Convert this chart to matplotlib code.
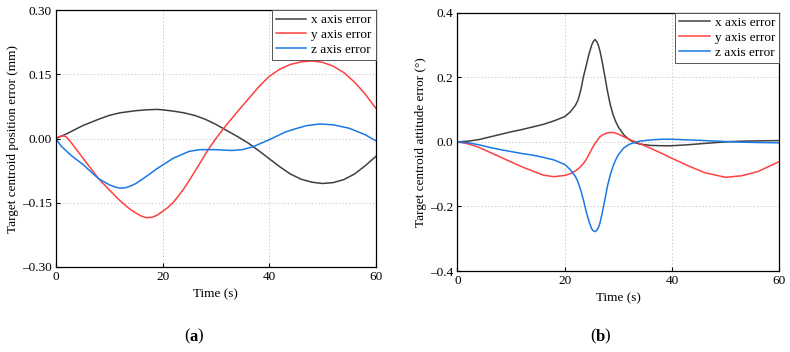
import matplotlib
matplotlib.use("Agg")
import matplotlib.pyplot as plt
from matplotlib.ticker import FuncFormatter

# ---- (a) position error ----
xa_t = [0, 2, 5, 8, 10, 12, 15, 17, 19, 20, 22, 24, 26, 28, 30, 32, 34, 36, 38,
        40, 42, 44, 46, 48, 50, 52, 54, 56, 58, 60]
xa = [0, 0.011, 0.03, 0.045, 0.054, 0.06, 0.065, 0.067, 0.068, 0.067, 0.064,
      0.06, 0.054, 0.045, 0.033, 0.019, 0.005, -0.01, -0.028, -0.047, -0.066,
      -0.083, -0.095, -0.102, -0.105, -0.103, -0.096, -0.083, -0.064, -0.042]

ya_t = [0, 0.5, 1, 1.5, 2, 3, 5, 8, 10, 12, 13, 14, 15, 16, 17, 18, 19, 20, 21,
        22, 23, 24, 25, 26, 27, 28, 29, 30, 32, 34, 36, 38, 40, 42, 44, 46, 48,
        50, 52, 54, 56, 58, 60]
ya = [0, 0.004, 0.006, 0.006, 0.003, -0.012, -0.045, -0.094, -0.12, -0.145,
      -0.156, -0.166, -0.174, -0.181, -0.185, -0.184, -0.179, -0.17, -0.161,
      -0.149, -0.134, -0.117, -0.098, -0.078, -0.058, -0.037, -0.018, 0.0,
      0.032, 0.062, 0.091, 0.12, 0.145, 0.162, 0.173, 0.179, 0.181, 0.178,
      0.169, 0.154, 0.132, 0.104, 0.071]

za_t = [0, 0.5, 1, 2, 3, 5, 8, 10, 11, 12, 13, 14, 15, 17, 19, 20, 22, 25, 27,
        30, 33, 35, 37, 40, 43, 45, 47, 49.5, 52, 55, 58, 60]
za = [0, -0.01, -0.018, -0.03, -0.041, -0.06, -0.094, -0.108, -0.113, -0.116,
      -0.115, -0.111, -0.105, -0.088, -0.07, -0.062, -0.046, -0.03, -0.026,
      -0.026, -0.028, -0.026, -0.019, -0.003, 0.015, 0.023, 0.03, 0.034, 0.032,
      0.024, 0.009, -0.005]

# ---- (b) attitude error ----
tb = [0, 2, 4, 6, 8, 10, 12, 14, 16, 18, 20, 21, 22, 22.5, 23, 23.5, 24, 24.5,
      25, 25.3, 25.66, 26, 26.3, 26.6, 27, 27.5, 28, 28.5, 29, 29.5, 30, 31, 32,
      33, 34, 36, 38, 40, 43, 46, 50, 53, 56, 60]
xb = [0, 0.002, 0.007, 0.015, 0.023, 0.031, 0.038, 0.046, 0.054, 0.065, 0.078,
      0.092, 0.113, 0.13, 0.16, 0.202, 0.235, 0.27, 0.298, 0.31, 0.317, 0.31,
      0.298, 0.28, 0.247, 0.202, 0.155, 0.115, 0.085, 0.063, 0.046, 0.022,
      0.007, -0.002, -0.007, -0.011, -0.012, -0.012, -0.009, -0.005, 0.0,
      0.002, 0.003, 0.004]
yb = [0, -0.006, -0.017, -0.032, -0.047, -0.062, -0.077, -0.09, -0.103,
      -0.108, -0.104, -0.099, -0.09, -0.084, -0.076, -0.067, -0.055, -0.04,
      -0.024, -0.015, -0.005, 0.003, 0.01, 0.016, 0.021, 0.025, 0.028, 0.029,
      0.029, 0.027, 0.024, 0.016, 0.008, 0.001, -0.005, -0.02, -0.035, -0.051,
      -0.074, -0.095, -0.11, -0.105, -0.092, -0.061]
zb = [0, -0.003, -0.009, -0.017, -0.024, -0.03, -0.036, -0.041, -0.048,
      -0.056, -0.07, -0.085, -0.107, -0.125, -0.15, -0.18, -0.215, -0.245,
      -0.268, -0.275, -0.278, -0.274, -0.265, -0.25, -0.22, -0.178, -0.135,
      -0.102, -0.076, -0.056, -0.04, -0.019, -0.008, -0.002, 0.002, 0.006,
      0.008, 0.008, 0.006, 0.004, 0.001, -0.001, -0.002, -0.003]

labels = ["x axis error", "y axis error", "z axis error"]
colors = ["#404040", "#ff4040", "#1a78e6"]

plt.rcParams["font.family"] = ["Liberation Serif", "DejaVu Serif"]
plt.rcParams["font.size"] = 9.5


def style_axes(ax, ylim, yticks, decimals, ylabel):
    ax.set_xlim(0, 60)
    ax.set_ylim(*ylim)
    ax.set_xticks([0, 20, 40, 60])
    ax.set_yticks(yticks)
    ax.yaxis.set_major_formatter(
        FuncFormatter(lambda v, p: f"{v:.{decimals}f}".replace("-", "\u2013")))
    ax.tick_params(direction="in", length=3, width=0.8, labelsize=9.5, pad=3)
    ax.grid(True, linestyle=(0, (1.5, 2)), color="#cccccc", linewidth=0.7)
    for s in ax.spines.values():
        s.set_linewidth(0.9)
    ax.set_xlabel("Time (s)", fontsize=9.5, labelpad=4)
    ax.set_ylabel(ylabel, fontsize=9.5, labelpad=2)
    leg = ax.legend(loc="upper right", fontsize=9.5, fancybox=False,
                    borderaxespad=0, handlelength=2.3, handletextpad=0.4,
                    labelspacing=0.2, borderpad=0.3, framealpha=1)
    leg.get_frame().set_edgecolor("#555555")
    leg.get_frame().set_linewidth(0.7)


fig = plt.figure(figsize=(7.9, 3.52), dpi=100)
ax1 = fig.add_axes([0.0709, 0.2415, 0.4047, 0.730])
ax2 = fig.add_axes([0.5789, 0.2301, 0.4076, 0.7338])

ax1.plot(xa_t, xa, color=colors[0], lw=1.1, label=labels[0])
ax1.plot(ya_t, ya, color=colors[1], lw=1.1, label=labels[1])
ax1.plot(za_t, za, color=colors[2], lw=1.1, label=labels[2])
style_axes(ax1, (-0.3, 0.3), [-0.3, -0.15, 0, 0.15, 0.3], 2,
           "Target centroid position error (mm)")

ax2.plot(tb, xb, color=colors[0], lw=1.1, label=labels[0])
ax2.plot(tb, yb, color=colors[1], lw=1.1, label=labels[1])
ax2.plot(tb, zb, color=colors[2], lw=1.1, label=labels[2])
style_axes(ax2, (-0.4, 0.4), [-0.4, -0.2, 0, 0.2, 0.4], 1,
           "Target centroid attitude error (°)")

# panel captions: parentheses regular, letter bold
for xc, letter, gap in [(0.2456, "a", 0.0085), (0.7595, "b", 0.009)]:
    fig.text(xc - gap, 0.043, "(", ha="center", va="center", fontsize=12)
    fig.text(xc, 0.043, letter, ha="center", va="center", fontsize=12,
             fontweight="bold")
    fig.text(xc + gap, 0.043, ")", ha="center", va="center", fontsize=12)

fig.savefig("out.png", dpi=100)
